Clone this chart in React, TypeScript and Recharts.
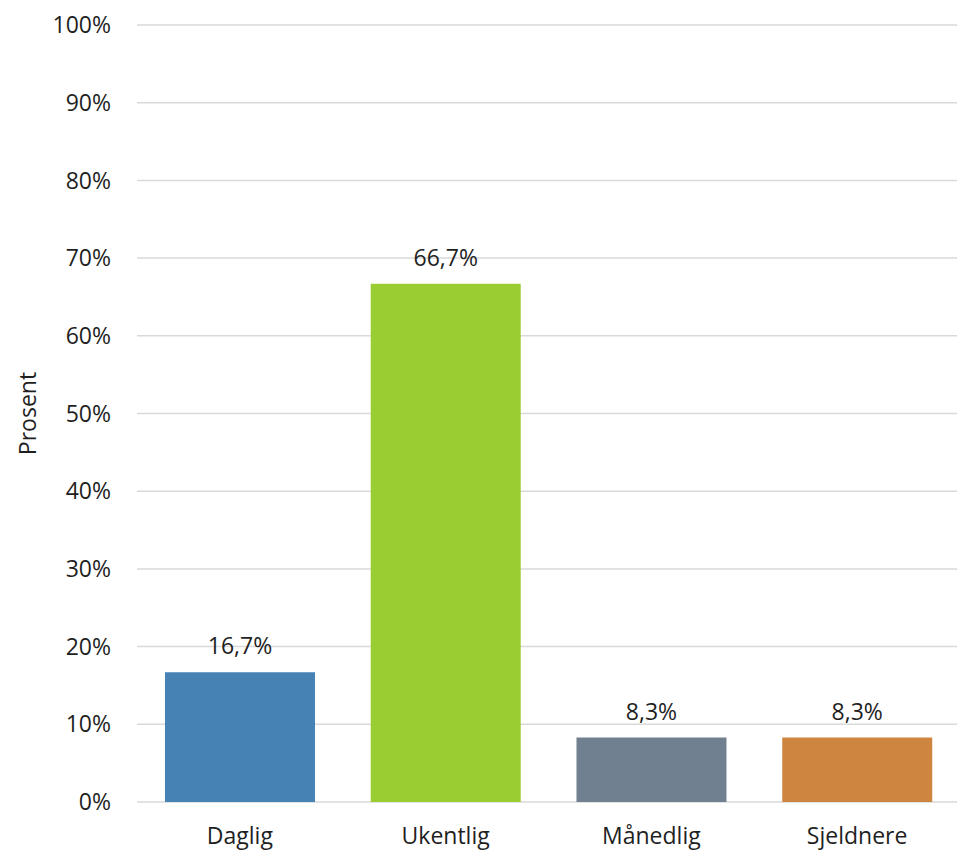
import React from 'react'
import { BarChart, Bar, XAxis, YAxis, CartesianGrid, Cell, LabelList } from 'recharts'

const categories = ['Daglig', 'Ukentlig', 'Månedlig', 'Sjeldnere']
const values = [16.7, 66.7, 8.3, 8.3]
const yTicks = [0, 10, 20, 30, 40, 50, 60, 70, 80, 90, 100]
const COLORS = ['#4682b4', '#9acd32', '#708090', '#cd853f']

const data = categories.map((name, i) => ({ name, value: values[i] }))

const FONT = '"Open Sans", "Noto Sans", sans-serif'
const TEXT = '#1f1f1f'

const App: React.FC = () => {
    return (
        <div style={{ position: 'absolute', left: 0, top: 0, background: '#fff', overflow: 'hidden', width: 957, height: 854 }}>
            <BarChart
                width={960}
                height={854}
                data={data}
                margin={{ top: 25, right: 0, bottom: 22, left: 7 }}
                barCategoryGap="13.6%"
            >
                <CartesianGrid vertical={false} stroke="#d9d9d9" strokeWidth={1.5} />
                <XAxis
                    dataKey="name"
                    axisLine={false}
                    tickLine={false}
                    tick={{ fill: TEXT, fontSize: 23, fontFamily: FONT }}
                    tickMargin={20}
                />
                <YAxis
                    domain={[0, 100]}
                    ticks={yTicks}
                    interval={0}
                    axisLine={false}
                    tickLine={false}
                    width={130}
                    tickMargin={20}
                    tickFormatter={(v: number) => `${v}%`}
                    tick={{ fill: TEXT, fontSize: 23, fontFamily: FONT }}
                    label={{
                        value: 'Prosent',
                        angle: -90,
                        position: 'insideLeft',
                        dx: 16,
                        style: { fill: TEXT, fontSize: 23, fontFamily: FONT, textAnchor: 'middle' },
                    }}
                />
                <Bar dataKey="value" isAnimationActive={false}>
                    {data.map((entry, index) => (
                        <Cell key={`cell-${index}`} fill={COLORS[index % COLORS.length]} />
                    ))}
                    <LabelList
                        dataKey="value"
                        position="top"
                        offset={18}
                        formatter={(v: number) => `${v.toFixed(1).replace('.', ',')}%`}
                        style={{ fill: TEXT, fontSize: 23, fontFamily: FONT }}
                    />
                </Bar>
            </BarChart>
        </div>
    )
}

export default App
